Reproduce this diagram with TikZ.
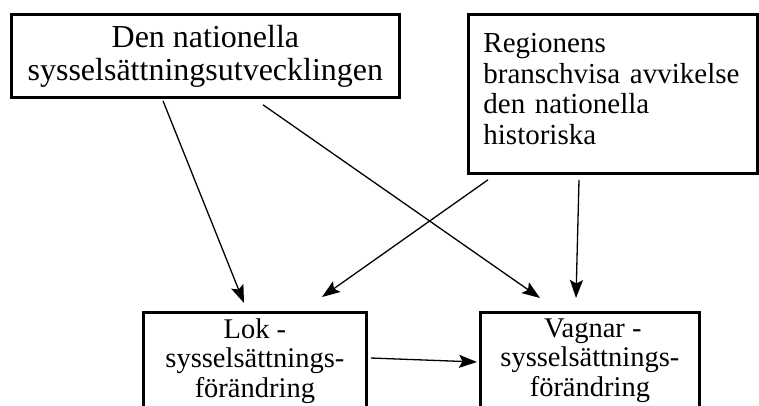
\documentclass[tikz,border=0pt]{standalone}
\usepackage{fontspec}
\setmainfont{Liberation Serif}
\usetikzlibrary{arrows.meta,calc}
\begin{document}
\begin{tikzpicture}[x=1pt,y=-1pt,
  box/.style={draw,line width=2.8pt,inner sep=0pt,anchor=north west},
  arr/.style={line width=1.3pt,-{Stealth[length=18pt,width=13pt,inset=3.5pt]}},
  bigfont/.style={font=\fontsize{32}{33}\selectfont},
  midfont/.style={font=\fontsize{29}{30.5}\selectfont},
  lowfont/.style={font=\fontsize{28.5}{29.5}\selectfont}]
\clip (0,0) rectangle (759,405);
\fill[white] (0,0) rectangle (759,405);
\node[box,bigfont,minimum width=388pt,minimum height=83pt,align=center] (b1) at (10,13)
  {Den nationella\\sysselsättningsutvecklingen};
\node[box,midfont,minimum width=289pt,minimum height=159pt,text width=259pt,inner xsep=15pt,align=left] (b2) at (467,13)
  {Regionens\\branschvisa avvikelse\\den nationella\\historiska\\[-20pt]\mbox{}};
\node[box,lowfont,minimum width=223pt,minimum height=110pt,align=center] (lok) at (142,311)
  {Lok -\\sysselsättnings-\\förändring\\[-10pt]\mbox{}};
\node[box,lowfont,minimum width=219pt,minimum height=110pt,align=center] (vag) at (479,311)
  {\hspace{6pt}Vagnar -\\sysselsättnings-\\förändring\\[-10pt]\mbox{}};
\draw[arr] ($(b1.south west)+(153,2)$) -- ($(lok.north west)+(102,-8)$);
\draw[arr] ($(b1.south west)+(253,6)$) -- ($(vag.north west)+(61,-13)$);
\draw[arr] ($(b2.south west)+(21,5)$) -- ($(lok.north west)+(180,-14)$);
\draw[arr] ($(b2.south west)+(112,5)$) -- ($(vag.north west)+(97,-13)$);
\draw[arr] ($(lok.north east)+(3,47)$) -- ($(vag.north west)+(-2,51)$);
\end{tikzpicture}
\end{document}
